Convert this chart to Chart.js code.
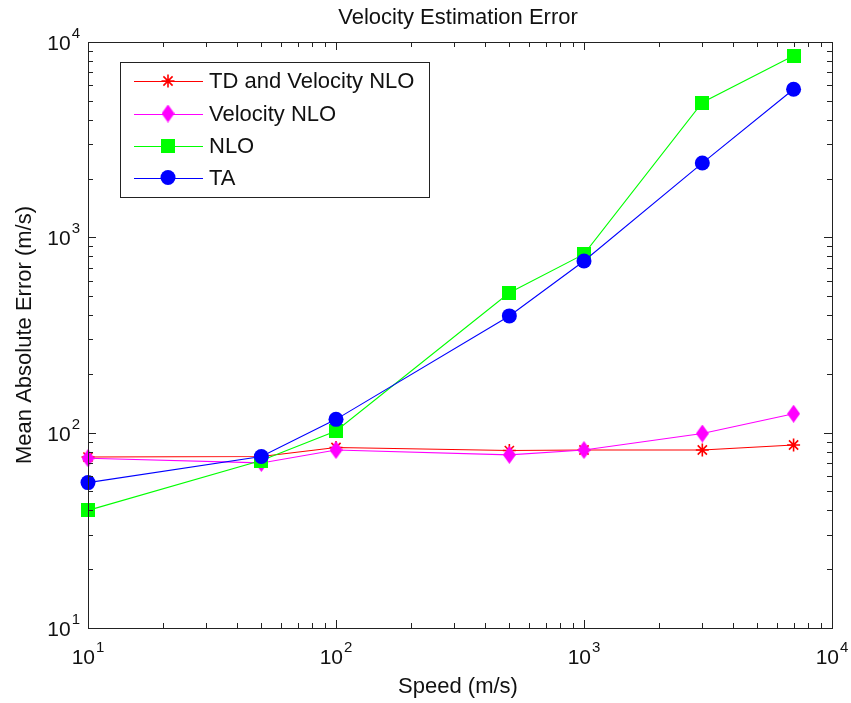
<!DOCTYPE html>
<html>
<head>
<meta charset="utf-8">
<title>Velocity Estimation Error</title>
<script src="https://cdn.jsdelivr.net/npm/chart.js@4.4.1/dist/chart.umd.min.js"></script>
<style>
  html, body { margin: 0; padding: 0; background: #fff; }
  #chart { display: block; }
</style>
</head>
<body>
<canvas id="chart" width="851" height="703"></canvas>
<script>
// ── Data ─────────────────────────────────────────────────────────────────────
const speeds = [10, 50, 100, 500, 1000, 3000, 7000];
const tdVelocityNlo = [75, 75.5, 84, 81, 81.5, 81.5, 86.5];
const velocityNlo = [74, 70, 81.5, 77, 81.5, 99, 125];
const nlo = [40, 72, 102, 520, 820, 4900, 8500];
const ta = [55.5, 75.5, 117, 396, 757, 2400, 5730];

const seriesNames = ["TD and Velocity NLO", "Velocity NLO", "NLO", "TA"];
const decades = [10, 100, 1000, 10000];
const exponents = ["1", "2", "3", "4"];

// ── Look ─────────────────────────────────────────────────────────────────────
const FONT = "Liberation Sans, Arial, Helvetica, sans-serif";
const TEXT = "#111";
const AREA = { left: 88, top: 42, right: 832, bottom: 628 };

function diamondMarker(w, h, color) {
  const c = document.createElement("canvas");
  c.width = w; c.height = h;
  const g = c.getContext("2d");
  g.fillStyle = color;
  g.beginPath();
  g.moveTo(w / 2, 0);
  g.lineTo(w, h / 2);
  g.lineTo(w / 2, h);
  g.lineTo(0, h / 2);
  g.closePath();
  g.fill();
  return c;
}

function squareMarker(s, color) {
  const c = document.createElement("canvas");
  c.width = s; c.height = s;
  const g = c.getContext("2d");
  g.fillStyle = color;
  g.fillRect(0, 0, s, s);
  return c;
}

const pts = (vals) => speeds.map((s, i) => ({ x: s, y: vals[i] }));

const datasets = [
  { label: seriesNames[0], data: pts(tdVelocityNlo), borderColor: "#ff0000", backgroundColor: "#ff0000",
    pointStyle: "star", pointRadius: 6.5, pointBorderWidth: 1.6, order: 3 },
  { label: seriesNames[1], data: pts(velocityNlo), borderColor: "#ff00ff", backgroundColor: "#ff00ff",
    pointStyle: diamondMarker(13, 18, "#ff00ff"), pointRadius: 8, order: 2 },
  { label: seriesNames[2], data: pts(nlo), borderColor: "#00ff00", backgroundColor: "#00ff00",
    pointStyle: squareMarker(14, "#00ff00"), pointRadius: 8, order: 1 },
  { label: seriesNames[3], data: pts(ta), borderColor: "#0000ff", backgroundColor: "#0000ff",
    pointStyle: "circle", pointRadius: 7.5, pointBorderWidth: 0, order: 0 },
];
datasets.forEach((d) => {
  d.borderWidth = 1.1;
  d.tension = 0;
  d.fill = false;
  d.clip = false;
  d.pointBackgroundColor = d.backgroundColor;
  d.pointBorderColor = d.borderColor;
});

// ── Frame, ticks, labels, legend ─────────────────────────────────────────────
function logTicks() {
  const out = [];
  for (let i = 0; i < decades.length - 1; i++) {
    for (let m = 1; m <= 9; m++) out.push({ v: m * decades[i], major: m === 1 });
  }
  out.push({ v: decades[decades.length - 1], major: true });
  return out;
}

function powerLabel(ctx, exp, x, y, align) {
  ctx.font = `21px ${FONT}`;
  const wb = ctx.measureText("10").width;
  ctx.font = `15px ${FONT}`;
  const we = ctx.measureText(exp).width;
  const total = wb + we + 1;
  const start = align === "center" ? x - total / 2 : x - total;
  ctx.textAlign = "left";
  ctx.textBaseline = "alphabetic";
  ctx.font = `21px ${FONT}`;
  ctx.fillText("10", start, y);
  ctx.font = `15px ${FONT}`;
  ctx.fillText(exp, start + wb + 1, y - 12);
}

function drawMarker(ctx, ds, x, y) {
  ctx.save();
  ctx.fillStyle = ds.backgroundColor;
  ctx.strokeStyle = ds.borderColor;
  ctx.lineWidth = ds.pointBorderWidth || 1;
  Chart.helpers.drawPoint(ctx, {
    pointStyle: ds.pointStyle, radius: ds.pointRadius, rotation: 0,
    borderWidth: ds.pointBorderWidth || 0,
  }, x, y);
  ctx.restore();
}

const matlabAxes = {
  id: "matlabAxes",
  afterDatasetsDraw(chart) {
    const { ctx, chartArea: a, scales } = chart;
    const xs = scales.x, ys = scales.y;
    ctx.save();

    // box
    ctx.strokeStyle = "#222";
    ctx.lineWidth = 1;
    ctx.strokeRect(Math.round(a.left) + 0.5, Math.round(a.top) + 0.5,
      Math.round(a.right - a.left), Math.round(a.bottom - a.top));

    // inward ticks on all four sides
    ctx.beginPath();
    logTicks().forEach((t) => {
      const len = t.major ? 8 : 5;
      const px = Math.round(xs.getPixelForValue(t.v)) + 0.5;
      ctx.moveTo(px, a.bottom); ctx.lineTo(px, a.bottom - len);
      ctx.moveTo(px, a.top); ctx.lineTo(px, a.top + len);
      const py = Math.round(ys.getPixelForValue(t.v)) + 0.5;
      ctx.moveTo(a.left, py); ctx.lineTo(a.left + len, py);
      ctx.moveTo(a.right, py); ctx.lineTo(a.right - len, py);
    });
    ctx.stroke();

    // tick labels 10^n
    ctx.fillStyle = TEXT;
    decades.forEach((d, i) => {
      powerLabel(ctx, exponents[i], xs.getPixelForValue(d), a.bottom + 36, "center");
      powerLabel(ctx, exponents[i], a.left - 8, ys.getPixelForValue(d) + 8, "right");
    });

    // titles
    ctx.font = `22px ${FONT}`;
    ctx.textAlign = "center";
    ctx.textBaseline = "alphabetic";
    ctx.fillText("Velocity Estimation Error", (a.left + a.right) / 2 - 2, 24);
    ctx.fillText("Speed (m/s)", (a.left + a.right) / 2 - 2, 693);
    ctx.save();
    ctx.translate(31, (a.top + a.bottom) / 2);
    ctx.rotate(-Math.PI / 2);
    ctx.fillText("Mean Absolute Error (m/s)", 0, 0);
    ctx.restore();

    // legend box
    const box = { x: 120, y: 62, w: 309, h: 135 };
    ctx.fillStyle = "#fff";
    ctx.fillRect(box.x, box.y, box.w, box.h);
    ctx.strokeStyle = "#222";
    ctx.strokeRect(box.x + 0.5, box.y + 0.5, box.w, box.h);
    const rows = [81, 113.5, 145.5, 177.5];
    chart.data.datasets.forEach((ds, i) => {
      const y = rows[i];
      ctx.strokeStyle = ds.borderColor;
      ctx.lineWidth = 1;
      ctx.beginPath();
      ctx.moveTo(134, Math.round(y) + 0.5);
      ctx.lineTo(203, Math.round(y) + 0.5);
      ctx.stroke();
      drawMarker(ctx, ds, 168, y);
      ctx.fillStyle = TEXT;
      ctx.font = `22px ${FONT}`;
      ctx.textAlign = "left";
      ctx.textBaseline = "middle";
      ctx.fillText(ds.label, 209, y + 1);
    });

    ctx.restore();
  },
};

// ── Chart ────────────────────────────────────────────────────────────────────
new Chart(document.getElementById("chart"), {
  type: "line",
  data: { datasets },
  options: {
    responsive: false,
    animation: false,
    events: [],
    layout: {
      padding: { left: AREA.left, top: AREA.top, right: 851 - AREA.right, bottom: 703 - AREA.bottom },
    },
    scales: {
      x: { type: "logarithmic", min: 10, max: 10000, display: false },
      y: { type: "logarithmic", min: 10, max: 10000, display: false },
    },
    plugins: {
      legend: { display: false },
      tooltip: { enabled: false },
      title: { display: false },
    },
  },
  plugins: [matlabAxes],
});
</script>
</body>
</html>
